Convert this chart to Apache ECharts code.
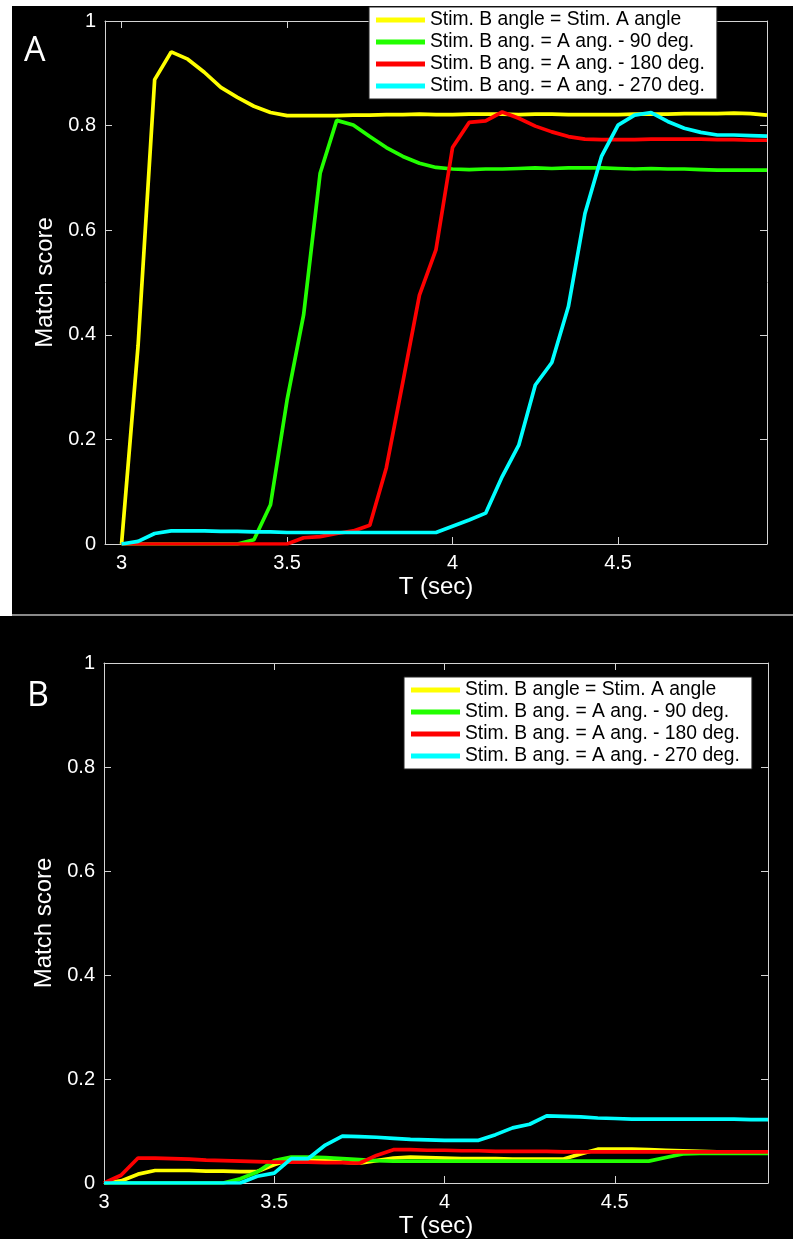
<!DOCTYPE html>
<html><head><meta charset="utf-8">
<script src="https://cdn.jsdelivr.net/npm/echarts@6/dist/echarts.min.js"></script>
<style>
html,body{margin:0;padding:0;background:#fff;width:793px;height:1239px;overflow:hidden;position:relative}
#bgA{position:absolute;left:12px;top:6px;width:781px;height:608px;background:#000}
#sep{position:absolute;left:12px;top:614px;width:781px;height:2px;background:#8a8a8a}
#bgB{position:absolute;left:0;top:616px;width:793px;height:623px;background:#000}
#chart{position:absolute;left:0;top:0;width:793px;height:1239px}
</style></head>
<body><div id="bgA"></div><div id="sep"></div><div id="bgB"></div><div id="chart"></div>
<script>
// ---- data ----
const times = [3.00,3.05,3.10,3.15,3.20,3.25,3.30,3.35,3.40,3.45,3.50,3.55,3.60,3.65,3.70,3.75,3.80,3.85,3.90,3.95,
               4.00,4.05,4.10,4.15,4.20,4.25,4.30,4.35,4.40,4.45,4.50,4.55,4.60,4.65,4.70,4.75,4.80,4.85,4.90,4.95];
const seriesNames = ["Stim. B angle = Stim. A angle","Stim. B ang. = A ang. - 90 deg.","Stim. B ang. = A ang. - 180 deg.","Stim. B ang. = A ang. - 270 deg."];
const xTicks = [3, 3.5, 4, 4.5];
const yTicks = [0, 0.2, 0.4, 0.6, 0.8, 1];
const panelLabels = ["A", "B"];
const xName = "T (sec)";
const yName = "Match score";

// Panel A
const yellowA = [0,0.38,0.888,0.941,0.927,0.902,0.873,0.854,0.837,0.825,0.819,0.819,0.819,0.819,0.820,0.820,0.821,0.821,0.822,0.821,
                 0.821,0.822,0.822,0.822,0.821,0.822,0.822,0.821,0.821,0.821,0.821,0.822,0.822,0.822,0.823,0.823,0.823,0.824,0.823,0.820];
const greenA  = [0,0,0,0,0,0,0,0,0.008,0.075,0.275,0.438,0.709,0.810,0.801,0.779,0.758,0.741,0.728,0.720,
                 0.717,0.716,0.717,0.717,0.718,0.719,0.718,0.719,0.719,0.719,0.718,0.717,0.718,0.717,0.717,0.716,0.715,0.715,0.715,0.715];
const redA    = [0,0,0,0,0,0,0,0,0,0,0,0.012,0.014,0.020,0.025,0.036,0.146,0.310,0.476,0.563,
                 0.758,0.806,0.809,0.826,0.814,0.799,0.788,0.779,0.774,0.773,0.773,0.773,0.774,0.774,0.774,0.774,0.773,0.773,0.772,0.772];
const cyanA   = [0,0.005,0.020,0.025,0.025,0.025,0.024,0.024,0.023,0.023,0.022,0.022,0.022,0.022,0.022,0.022,0.022,0.022,0.022,0.022,
                 0.034,0.046,0.059,0.129,0.189,0.304,0.347,0.454,0.632,0.741,0.801,0.820,0.825,0.808,0.795,0.787,0.782,0.782,0.781,0.780];
// Panel B
const yellowB = [0,0.004,0.017,0.024,0.024,0.024,0.023,0.023,0.022,0.022,0.035,0.046,0.045,0.044,0.040,0.038,0.043,0.048,0.050,0.049,
                 0.048,0.047,0.047,0.047,0.046,0.046,0.046,0.046,0.056,0.065,0.065,0.065,0.064,0.063,0.062,0.061,0.060,0.060,0.059,0.059];
const greenB  = [0,0,0,0,0,0,0,0,0.008,0.021,0.043,0.050,0.050,0.049,0.047,0.045,0.043,0.042,0.042,0.042,
                 0.042,0.042,0.042,0.042,0.042,0.042,0.042,0.042,0.042,0.042,0.042,0.042,0.042,0.049,0.056,0.057,0.057,0.057,0.057,0.057];
const redB    = [0,0.015,0.048,0.048,0.047,0.046,0.044,0.043,0.042,0.041,0.040,0.040,0.040,0.039,0.039,0.038,0.053,0.064,0.064,0.063,
                 0.063,0.062,0.062,0.061,0.061,0.061,0.061,0.060,0.060,0.060,0.060,0.060,0.060,0.060,0.060,0.060,0.060,0.060,0.060,0.060];
const cyanB   = [0,0,0,0,0,0,0,0,0,0.013,0.019,0.047,0.047,0.073,0.090,0.089,0.088,0.086,0.084,0.083,
                 0.082,0.082,0.082,0.093,0.106,0.113,0.129,0.128,0.127,0.125,0.124,0.123,0.123,0.123,0.123,0.123,0.123,0.123,0.122,0.122];

const colors = ["#ffff00", "#22ff00", "#ff0000", "#00ffff"];
const FONT = "'Liberation Sans', Arial, Helvetica, sans-serif";
const axisCol = "#d4d4d4";

function pairs(vals){ return times.map((t,i)=>[t, vals[i]]); }

function xAxes(grid, min, max){
  const base = {type:'value', gridIndex:grid, min:min, max:max,
    axisLine:{show:true, onZero:false, lineStyle:{color:axisCol, width:1}},
    axisTick:{show:true, inside:true, length:7, customValues:xTicks, lineStyle:{color:axisCol}},
    splitLine:{show:false}};
  return [
    Object.assign({}, base, {position:'bottom',
      axisLabel:{show:true, customValues:xTicks, color:'#fff', fontSize:20, fontFamily:FONT, margin:9},
      name:xName, nameLocation:'middle', nameGap:31, nameTextStyle:{color:'#fff', fontSize:24, fontFamily:FONT}}),
    Object.assign({}, base, {position:'top', axisLabel:{show:false}})
  ];
}
function yAxes(grid){
  const base = {type:'value', gridIndex:grid, min:0, max:1,
    axisLine:{show:true, onZero:false, lineStyle:{color:axisCol, width:1}},
    axisTick:{show:true, inside:true, length:7, customValues:yTicks, lineStyle:{color:axisCol}},
    splitLine:{show:false}};
  return [
    Object.assign({}, base, {position:'left',
      axisLabel:{show:true, customValues:yTicks, color:'#fff', fontSize:20, fontFamily:FONT, margin:9},
      name:yName, nameLocation:'middle', nameRotate:90, nameGap:36, nameTextStyle:{color:'#fff', fontSize:24, fontFamily:FONT}}),
    Object.assign({}, base, {position:'right', axisLabel:{show:false}})
  ];
}

const dataA = [yellowA, greenA, redA, cyanA];
const dataB = [yellowB, greenB, redB, cyanB];
const series = [];
dataA.forEach((d,i)=>series.push({type:'line', name:seriesNames[i], xAxisIndex:0, yAxisIndex:0, data:pairs(d),
  symbol:'none', color:colors[i], lineStyle:{width:3.7, color:colors[i]}}));
dataB.forEach((d,i)=>series.push({type:'line', name:seriesNames[i], xAxisIndex:2, yAxisIndex:2, data:pairs(d),
  symbol:'none', color:colors[i], lineStyle:{width:3.7, color:colors[i]}}));

function legend(left, top){
  return {orient:'vertical', left:left, top:top, data:seriesNames, icon:'rect', itemWidth:49, itemHeight:5,
    itemGap:0, padding:[2,12,2,7], backgroundColor:'#fff', borderColor:'#222', borderWidth:1, itemStyle:{borderWidth:0},
    textStyle:{color:'#000', fontSize:19.3, fontFamily:FONT, lineHeight:22}, selectedMode:false};
}

const chart = echarts.init(document.getElementById('chart'), null, {renderer:'canvas'});
chart.setOption({
  animation:false,
  backgroundColor:'transparent',
  grid:[{left:105, top:21, width:662, height:523}, {left:104, top:663, width:664, height:523}],
  xAxis:[...xAxes(0, 2.95, 4.95), ...xAxes(1, 3, 4.95)],
  yAxis:[...yAxes(0), ...yAxes(1)],
  legend:[legend(369, 7), legend(404, 677)],
  series:series,
  graphic:[
    {type:'text', left:24, top:34, style:{text:panelLabels[0], fill:'#fff', fontSize:34, fontFamily:"'Open Sans', sans-serif"}},
    {type:'text', left:27, top:679, style:{text:panelLabels[1], fill:'#fff', fontSize:34, fontFamily:"'Open Sans', sans-serif"}}
  ]
});
</script></body></html>
